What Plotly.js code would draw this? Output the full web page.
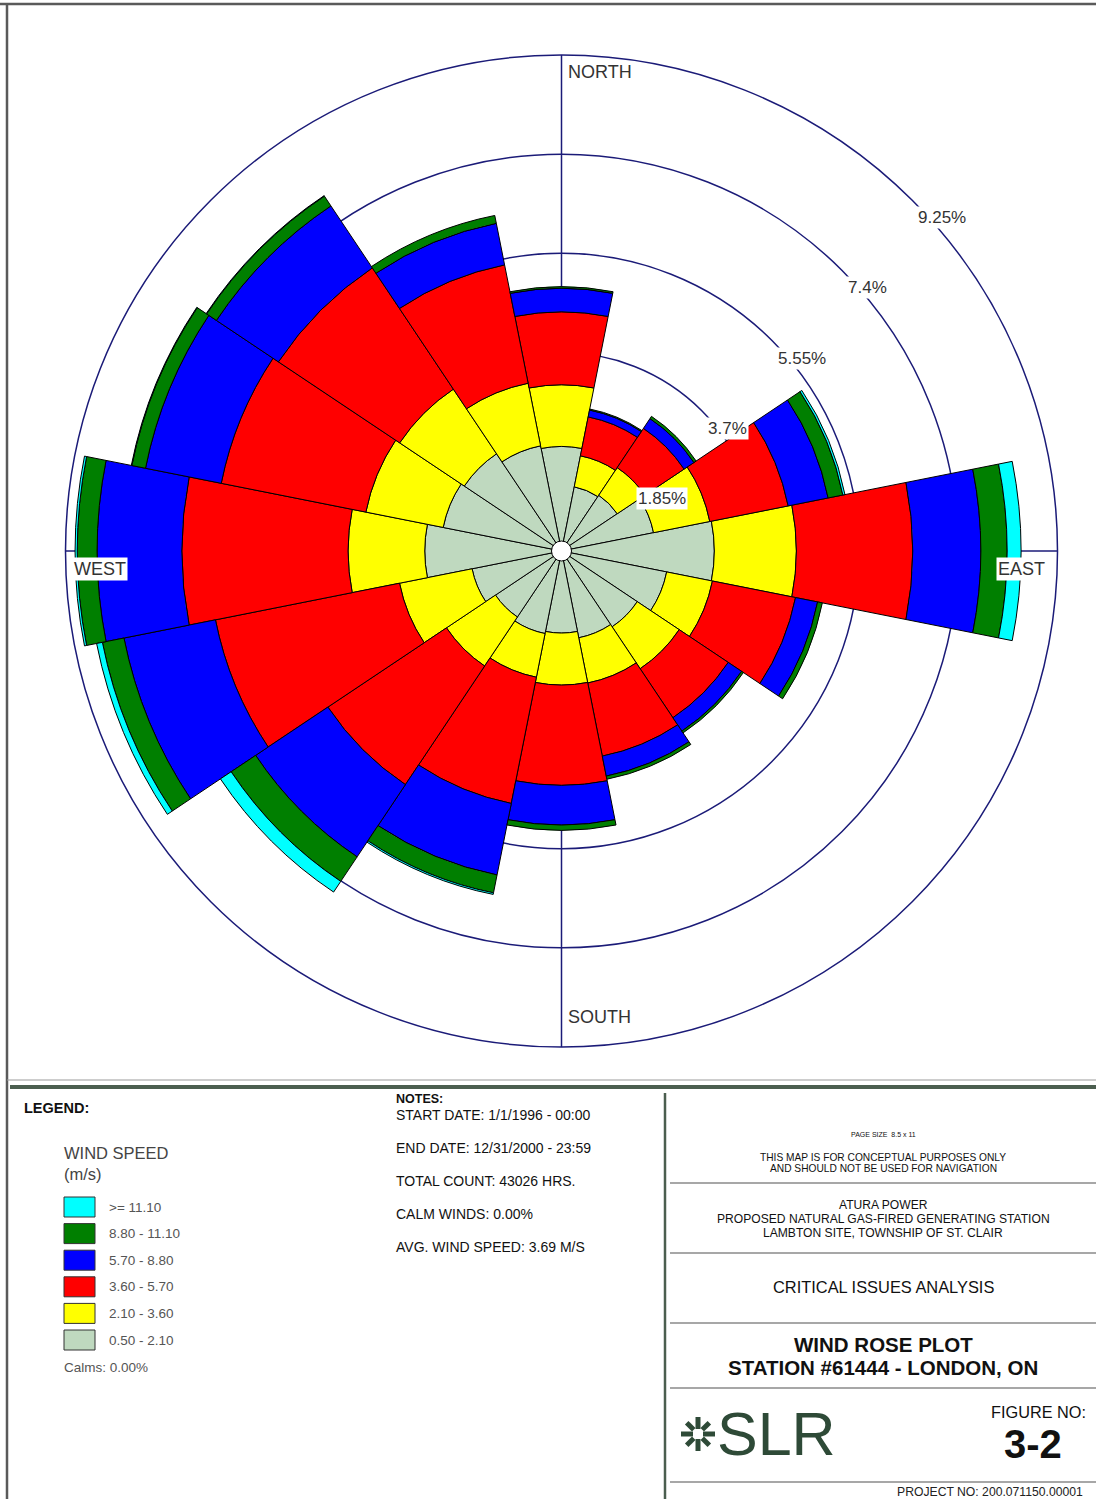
<!DOCTYPE html>
<html>
<head>
<meta charset="utf-8">
<script src="https://cdn.plot.ly/plotly-3.0.1.min.js"></script>
<style>
  html, body { margin: 0; padding: 0; background: #fff; }
  #chart { width: 1096px; height: 1499px; }
</style>
</head>
<body>
<div id="chart"></div>
<script>
// ---------------- DATA ----------------
const directions = [0, 22.5, 45, 67.5, 90, 112.5, 135, 157.5, 180, 202.5, 225, 247.5, 270, 292.5, 315, 337.5];
const directionNames = ['N','NNE','NE','ENE','E','ESE','SE','SSE','S','SSW','SW','WSW','W','WNW','NW','NNW'];

// frequency (%) per direction for each wind speed class (m/s)
const freq_050_210 = [1.95, 1.22, 1.25, 1.75, 2.85, 2.00, 1.70, 1.65, 1.53, 1.57, 1.48, 1.70, 2.55, 2.25, 2.18, 2.00];
const freq_210_360 = [1.15, 0.59, 0.62, 1.07, 1.53, 0.87, 0.94, 0.86, 0.97, 0.83, 1.10, 1.38, 1.43, 1.47, 1.45, 1.19];
const freq_360_570 = [1.36, 0.74, 0.88, 1.49, 2.17, 1.58, 1.10, 1.39, 1.87, 2.40, 2.66, 3.50, 3.10, 2.75, 2.72, 2.25];
const freq_570_880 = [0.44, 0.13, 0.22, 0.76, 1.27, 0.42, 0.30, 0.38, 0.74, 1.36, 1.62, 1.74, 1.58, 1.44, 1.39, 0.79];
const freq_880_1110 = [0.03, 0.02, 0.05, 0.28, 0.49, 0.09, 0.04, 0.06, 0.10, 0.34, 0.55, 0.41, 0.37, 0.26, 0.22, 0.15];
const freq_ge_1110 = [0.00, 0.00, 0.00, 0.04, 0.26, 0.00, 0.00, 0.00, 0.00, 0.03, 0.24, 0.11, 0.04, 0.01, 0.01, 0.00];

const speedLabels = ['0.50 - 2.10', '2.10 - 3.60', '3.60 - 5.70', '5.70 - 8.80', '8.80 - 11.10', '>= 11.10'];
const ringValues = [1.85, 3.7, 5.55, 7.4, 9.25];
const ringLabels = ['1.85%', '3.7%', '5.55%', '7.4%', '9.25%'];
const compassLabels = ['NORTH', 'EAST', 'SOUTH', 'WEST'];

// ---------------- STYLE ----------------
const speedSeries = [freq_050_210, freq_210_360, freq_360_570, freq_570_880, freq_880_1110, freq_ge_1110];
const speedColors = ['#bfd9bf', '#ffff00', '#ff0000', '#0000ff', '#007f00', '#00ffff'];
const navy = '#1b1b78';
const FONT = 'Liberation Sans, Arial, Helvetica, sans-serif';

const W = 1096, H = 1499;
const X = px => px / W;
const Y = py => 1 - py / H;

// polar geometry (pixels)
const cx = 561.5, cy = 551, R = 496, rMax = 9.25;
function polarPx(r, thetaDeg) {
  const a = thetaDeg * Math.PI / 180;
  const rp = r / rMax * R;
  return [cx + rp * Math.sin(a), cy - rp * Math.cos(a)];
}

// ---------------- TRACES ----------------
const traces = speedSeries.map((s, i) => ({
  type: 'barpolar',
  r: s,
  theta: directions,
  width: directions.map(() => 22.5),
  name: speedLabels[i],
  marker: { color: speedColors[i], line: { color: '#000000', width: 1 } },
  showlegend: false,
  hoverinfo: 'skip'
}));
traces.push({
  type: 'scatterpolar', r: [0], theta: [0], mode: 'markers',
  marker: { size: 20, color: '#ffffff', line: { color: '#000000', width: 1 } },
  showlegend: false, hoverinfo: 'skip'
});

// ---------------- ANNOTATIONS ----------------
const ann = [];
function txt(x, y, text, size, opts) {
  ann.push(Object.assign({
    xref: 'paper', yref: 'paper', x: X(x), y: Y(y), text: text, showarrow: false,
    xanchor: 'left', yanchor: 'middle',
    font: { family: FONT, size: size, color: '#222' }
  }, opts || {}));
}

// ring labels
ringValues.forEach((v, i) => {
  const p = polarPx(v, 45);
  ann.push({
    xref: 'paper', yref: 'paper', x: X(p[0]), y: Y(p[1]), text: ringLabels[i], showarrow: false,
    xanchor: 'left', yanchor: 'top', xshift: 4, yshift: -6,
    bgcolor: '#ffffff', borderpad: 1,
    font: { family: FONT, size: 17, color: '#333' }
  });
});

// compass labels
(function () {
  const pn = polarPx(rMax, 0), pe = polarPx(rMax, 90), ps = polarPx(rMax, 180), pw = polarPx(rMax, 270);
  const f = { family: FONT, size: 18, color: '#333' };
  ann.push({ xref: 'paper', yref: 'paper', x: X(pn[0]), y: Y(pn[1]), text: compassLabels[0], showarrow: false,
    xanchor: 'left', yanchor: 'top', xshift: 4, yshift: -5, font: f });
  ann.push({ xref: 'paper', yref: 'paper', x: X(pe[0]), y: Y(pe[1]), text: compassLabels[1], showarrow: false,
    xanchor: 'right', yanchor: 'top', xshift: -11, yshift: -6, bgcolor: '#ffffff', borderpad: 1, font: f });
  ann.push({ xref: 'paper', yref: 'paper', x: X(ps[0]), y: Y(ps[1]), text: compassLabels[2], showarrow: false,
    xanchor: 'left', yanchor: 'bottom', xshift: 4, yshift: 18, font: f });
  ann.push({ xref: 'paper', yref: 'paper', x: X(pw[0]), y: Y(pw[1]), text: compassLabels[3], showarrow: false,
    xanchor: 'left', yanchor: 'top', xshift: 6, yshift: -6, bgcolor: '#ffffff', borderpad: 1, font: f });
})();

// legend block
txt(22, 1108, '<b>LEGEND:</b>', 14.5, { font: { family: FONT, size: 14.5, color: '#111' } });
txt(62, 1153, 'WIND SPEED', 16.5, { font: { family: FONT, size: 16.5, color: '#444' } });
txt(62, 1174, '(m/s)', 16.5, { font: { family: FONT, size: 16.5, color: '#444' } });
const legendOrder = [5, 4, 3, 2, 1, 0];
const legendY0 = 1207, legendDY = 26.6;
const shapes = [];
legendOrder.forEach((k, j) => {
  const yc = legendY0 + j * legendDY;
  shapes.push({ type: 'rect', xref: 'paper', yref: 'paper', x0: X(64), x1: X(95), y0: Y(yc - 10), y1: Y(yc + 10),
    fillcolor: speedColors[k], line: { color: '#333', width: 1 } });
  txt(107, yc, speedLabels[k], 13.5, { font: { family: FONT, size: 13.5, color: '#555' } });
});
txt(62, 1367, 'Calms: 0.00%', 13.5, { font: { family: FONT, size: 13.5, color: '#555' } });

// notes
txt(394, 1099, '<b>NOTES:</b>', 12.5, { font: { family: FONT, size: 12.5, color: '#111' } });
const notes = ['START DATE: 1/1/1996 - 00:00', 'END DATE: 12/31/2000 - 23:59', 'TOTAL COUNT: 43026 HRS.',
  'CALM WINDS: 0.00%', 'AVG. WIND SPEED: 3.69 M/S'];
notes.forEach((n, i) => txt(394, 1115 + i * 33, n, 14, { font: { family: FONT, size: 14, color: '#111' } }));

// title block
const tbx = 883;
function ctr(y, text, size, bold, color) {
  txt(tbx, y, bold ? '<b>' + text + '</b>' : text, size,
    { xanchor: 'center', font: { family: FONT, size: size, color: color || '#111' } });
}
ctr(1134, 'PAGE SIZE  8.5 x 11', 7);
ctr(1157, 'THIS MAP IS FOR CONCEPTUAL PURPOSES ONLY', 10.2);
ctr(1168, 'AND SHOULD NOT BE USED FOR NAVIGATION', 10.2);
ctr(1205, 'ATURA POWER', 12.1);
ctr(1219, 'PROPOSED NATURAL GAS-FIRED GENERATING STATION', 12.1);
ctr(1233, 'LAMBTON SITE, TOWNSHIP OF ST. CLAIR', 12.1);
ctr(1287, 'CRITICAL ISSUES ANALYSIS', 16.4);
ctr(1344, 'WIND ROSE PLOT', 20.5, true);
ctr(1367, 'STATION #61444 - LONDON, ON', 20.5, true);
txt(1038, 1412, 'FIGURE NO:', 16.3, { xanchor: 'center', font: { family: FONT, size: 16.3, color: '#111' } });
txt(1033, 1444, '<b>3-2</b>', 40, { xanchor: 'center', font: { family: FONT, size: 40, color: '#111' } });
txt(1085, 1492, 'PROJECT NO: 200.071150.00001', 12.2, { xanchor: 'right', font: { family: FONT, size: 12.2, color: '#222' } });
txt(715, 1434, 'SLR', 61, { font: { family: FONT, size: 61, color: '#2e4a37' } });

// ---------------- FRAME SHAPES ----------------
function line(x0, y0, x1, y1, color, width) {
  shapes.push({ type: 'line', xref: 'paper', yref: 'paper', x0: X(x0), y0: Y(y0), x1: X(x1), y1: Y(y1),
    line: { color: color, width: width } });
}
line(0, 4, 1096, 4, '#5a5a5a', 2.5);
line(7, 4, 7, 1499, '#5a5a5a', 2.5);
line(7, 1080, 1096, 1080, '#9a9a9a', 1);
line(10, 1087, 1096, 1087, '#4b5e4f', 4);
line(665, 1093, 665, 1499, '#4b5e4f', 2.5);
[1183, 1253, 1323, 1388, 1482].forEach(y => line(670, y, 1096, y, '#8a8a8a', 1.5));

// SLR icon (radiating strokes)
const icx = 698, icy = 1434;
for (let k = 0; k < 8; k++) {
  const a = k * Math.PI / 4;
  const r0 = k % 2 === 0 ? 5 : 6, r1 = k % 2 === 0 ? 17 : 16;
  line(icx + r0 * Math.cos(a), icy + r0 * Math.sin(a), icx + r1 * Math.cos(a), icy + r1 * Math.sin(a), '#2e4a37', 5);
}

// ---------------- LAYOUT ----------------
const layout = {
  width: W, height: H,
  margin: { l: 0, r: 0, t: 0, b: 0, pad: 0 },
  paper_bgcolor: '#ffffff',
  showlegend: false,
  font: { family: FONT },
  polar: {
    domain: { x: [X(cx - R), X(cx + R)], y: [Y(cy + R), Y(cy - R)] },
    bgcolor: 'rgba(0,0,0,0)',
    bargap: 0,
    barmode: 'stack',
    radialaxis: {
      range: [0, rMax], tickvals: ringValues, showticklabels: false, ticks: '',
      showline: false, gridcolor: navy, gridwidth: 1.5
    },
    angularaxis: {
      rotation: 90, direction: 'clockwise', thetaunit: 'degrees',
      tickvals: [0, 90, 180, 270], showticklabels: false, ticks: '',
      showgrid: true, gridcolor: navy, gridwidth: 1.5,
      showline: true, linecolor: navy, linewidth: 1.5, layer: 'below traces'
    }
  },
  annotations: ann,
  shapes: shapes
};

Plotly.newPlot('chart', traces, layout, { staticPlot: true, displayModeBar: false });
</script>
</body>
</html>
